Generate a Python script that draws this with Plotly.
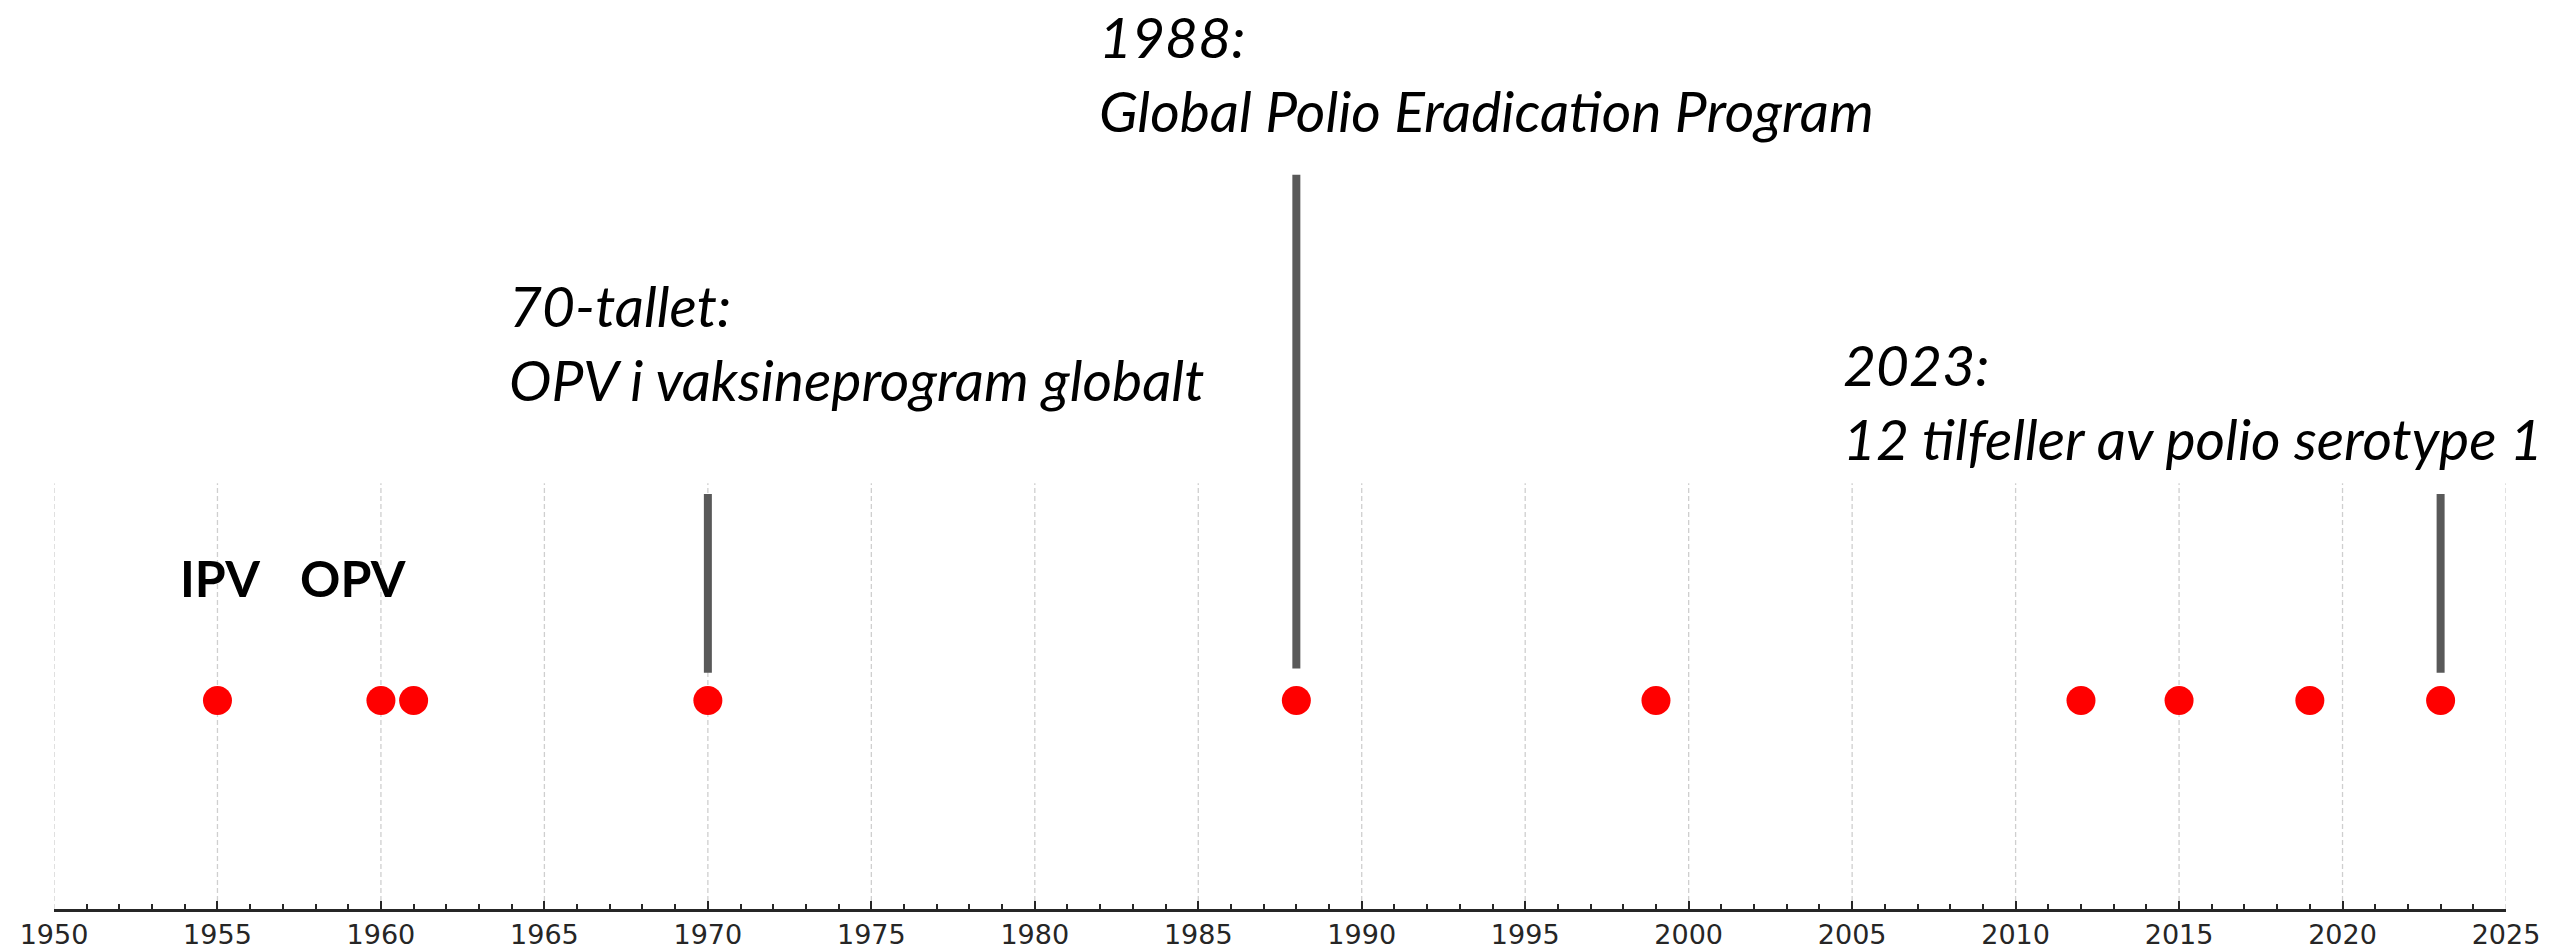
import plotly.graph_objects as go

# ---- data ----
dot_years = [1955, 1960, 1961, 1970, 1988, 1999, 2012, 2015, 2019, 2023]
dot_level = -0.02
event_years = [1970, 1988, 2023]
event_line_bottom = [0.11, 0.13, 0.11]
event_line_top = [0.95, 2.45, 0.95]
grid_years = list(range(1950, 2026, 5))
label_texts = ["70-tallet:<br>OPV i vaksineprogram globalt",
               "1988:<br>Global Polio Eradication Program",
               "2023:<br>12 tilfeller av polio serotype 1"]
vaccine_texts = ["IPV", "OPV"]

# ---- layout config (positions) ----
label_x = [1963.85, 1981.9, 2004.65]
label_y = [1.666, 2.93, 1.388]
vaccine_x = [1953.8, 1957.45]
vaccine_y = [0.555, 0.555]

W, H = 2552, 950
fig = go.Figure()

# dashed vertical grid lines (only within the lower panel)
gx, gy = [], []
for g in grid_years:
    gx += [g, g, None]
    gy += [-1, 1, None]
fig.add_trace(go.Scatter(x=gx, y=gy, mode="lines",
                         line=dict(color="#cfcfcf", width=1.3, dash="5px,3px"),
                         hoverinfo="skip", showlegend=False))

# event stems
for yr, b, t in zip(event_years, event_line_bottom, event_line_top):
    fig.add_trace(go.Scatter(x=[yr, yr], y=[b, t], mode="lines",
                             line=dict(color="#595959", width=8),
                             hoverinfo="skip", showlegend=False))

# dots
fig.add_trace(go.Scatter(x=dot_years, y=[dot_level] * len(dot_years), mode="markers",
                         marker=dict(color="#ff0000", size=29, line=dict(width=0)),
                         showlegend=False, cliponaxis=False))

annotations = []
for txt, x, y in zip(label_texts, label_x, label_y):
    annotations.append(dict(x=x, y=y, xref="x", yref="y", text=txt, showarrow=False,
                            xanchor="left", yanchor="middle", align="left",
                            font=dict(family="Lato", size=57, style="italic", color="black")))
for txt, x, y in zip(vaccine_texts, vaccine_x, vaccine_y):
    annotations.append(dict(x=x, y=y, xref="x", yref="y", text=txt, showarrow=False,
                            xanchor="left", yanchor="middle", align="left",
                            font=dict(family="Lato", size=50, weight=700, color="black")))

px_per_unit = 214.0
ymax = 1 + 486 / px_per_unit

fig.update_layout(
    width=W, height=H,
    margin=dict(l=54, r=46, t=0, b=36),
    paper_bgcolor="white", plot_bgcolor="white",
    annotations=annotations,
    xaxis=dict(range=[1950, 2025], tick0=1950, dtick=5, ticks="inside",
               ticklen=8, tickwidth=2, tickcolor="#262626",
               showline=True, linewidth=2.5, linecolor="#262626",
               showgrid=False, zeroline=False,
               tickfont=dict(family="DejaVu Sans", size=27, color="#262626"),
               minor=dict(dtick=1, ticks="inside", ticklen=5, tickwidth=1.5,
                          tickcolor="#262626", showgrid=False)),
    yaxis=dict(range=[-1, ymax], visible=False, showgrid=False, zeroline=False),
)

fig.write_html("out.html", config={"displayModeBar": False},
               post_script="document.body.style.margin='0px';document.body.style.overflow='hidden';")
